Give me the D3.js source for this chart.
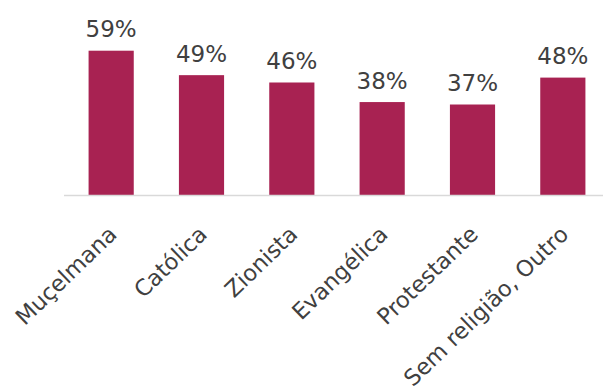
<!DOCTYPE html>
<html>
<head>
<meta charset="utf-8">
<script src="https://cdn.jsdelivr.net/npm/d3@7"></script>
<style>
  body { margin: 0; background: #fff; }
</style>
</head>
<body>
<script>
const categories = ["Muçelmana", "Católica", "Zionista", "Evangélica", "Protestante", "Sem religião, Outro"];
const values = [59, 49, 46, 38, 37, 48];

const width = 605;
const height = 391;
const baseY = 195;

const svg = d3.create("svg")
  .attr("width", width)
  .attr("height", height)
  .attr("viewBox", [0, 0, width, height]);

const x = d3.scaleBand()
  .domain(categories)
  .range([66, 608])
  .paddingInner(0.5)
  .paddingOuter(0.25);

const y = d3.scaleLinear()
  .domain([0, 59])
  .range([baseY, 50.7]);

// bars
svg.selectAll("rect.bar")
  .data(values)
  .join("rect")
  .attr("class", "bar")
  .attr("x", (d, i) => x(categories[i]))
  .attr("y", d => y(d))
  .attr("width", x.bandwidth())
  .attr("height", d => baseY - y(d))
  .attr("fill", "#A82252");

// axis line
svg.append("line")
  .attr("x1", 64).attr("x2", 603)
  .attr("y1", baseY + 0.5).attr("y2", baseY + 0.5)
  .attr("stroke", "#D9D9D9")
  .attr("stroke-width", 1.5);

// value labels
svg.selectAll("text.val")
  .data(values)
  .join("text")
  .attr("class", "val")
  .attr("x", (d, i) => x(categories[i]) + x.bandwidth() / 2)
  .attr("y", d => y(d) - 13.5)
  .attr("text-anchor", "middle")
  .attr("font-family", "DejaVu Sans")
  .attr("font-size", "23px")
  .attr("fill", "#404040")
  .text(d => d + "%");

// category labels
svg.selectAll("text.cat")
  .data(categories)
  .join("text")
  .attr("class", "cat")
  .attr("transform", d => `translate(${x(d) + x.bandwidth() / 2 + 7},${baseY + 41}) rotate(-44)`)
  .attr("text-anchor", "end")
  .attr("font-family", "DejaVu Sans")
  .attr("font-size", "22.5px")
  .attr("fill", "#404040")
  .text(d => d);

d3.select("body").append(() => svg.node());
</script>
</body>
</html>
